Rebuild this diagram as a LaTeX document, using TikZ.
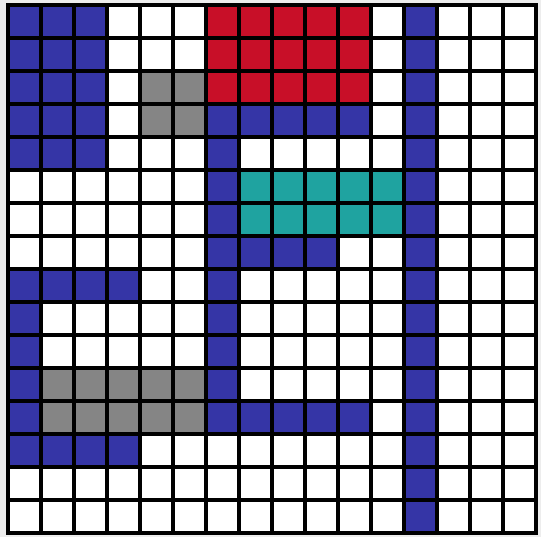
\documentclass[tikz,border=0pt]{standalone}
\usetikzlibrary{}
\definecolor{gblue}{HTML}{3535A6}
\definecolor{gred}{HTML}{C80F28}
\definecolor{gteal}{HTML}{1FA3A0}
\definecolor{ggray}{HTML}{858585}
\definecolor{gbg}{HTML}{EDEDED}
\tikzset{
  cellblue/.style={fill=gblue},
  cellred/.style={fill=gred},
  cellteal/.style={fill=gteal},
  cellgray/.style={fill=ggray},
  gridline/.style={line width=3.4pt, black},
}
\begin{document}
\begin{tikzpicture}[x=1pt,y=-1pt]
\useasboundingbox (0,0) rectangle (541,537);
\fill[gbg] (0,0) rectangle (541,537);
\fill[white] (8,5) rectangle (536,533);
% cell (c,r) -> rectangle from (8+33c, 5+33r)
\newcommand{\cellrow}[4]{% style, row, col from, col to
  \foreach \c in {#3,...,#4} {\fill[#1] ({8+33*\c},{5+33*#2}) rectangle ++(33,33);}
}
% blue top-left block rows 0-4 cols 0-2
\foreach \r in {0,...,4} {\cellrow{cellblue}{\r}{0}{2}}
% red rows 0-2 cols 6-10
\foreach \r in {0,...,2} {\cellrow{cellred}{\r}{6}{10}}
% gray small rows 2-3 cols 4-5
\foreach \r in {2,3} {\cellrow{cellgray}{\r}{4}{5}}
% vertical blue col 12 all rows
\foreach \r in {0,...,15} {\cellrow{cellblue}{\r}{12}{12}}
% blue row 3 cols 6-10
\cellrow{cellblue}{3}{6}{10}
% col 6 rows 4-12
\foreach \r in {4,...,12} {\cellrow{cellblue}{\r}{6}{6}}
% teal rows 5-6 cols 7-11
\foreach \r in {5,6} {\cellrow{cellteal}{\r}{7}{11}}
% row 7 cols 7-9
\cellrow{cellblue}{7}{7}{9}
% row 12 cols 7-10
\cellrow{cellblue}{12}{7}{10}
% lower left bracket
\cellrow{cellblue}{8}{0}{3}
\foreach \r in {9,...,12} {\cellrow{cellblue}{\r}{0}{0}}
\cellrow{cellblue}{13}{0}{3}
% gray lower rows 11-12 cols 1-5
\foreach \r in {11,12} {\cellrow{cellgray}{\r}{1}{5}}
% grid
\foreach \i in {0,...,16} {
  \draw[gridline] ({8+33*\i},3.3) -- ({8+33*\i},534.7);
  \draw[gridline] (6.3,{5+33*\i}) -- (537.7,{5+33*\i});
}
\end{tikzpicture}
\end{document}
